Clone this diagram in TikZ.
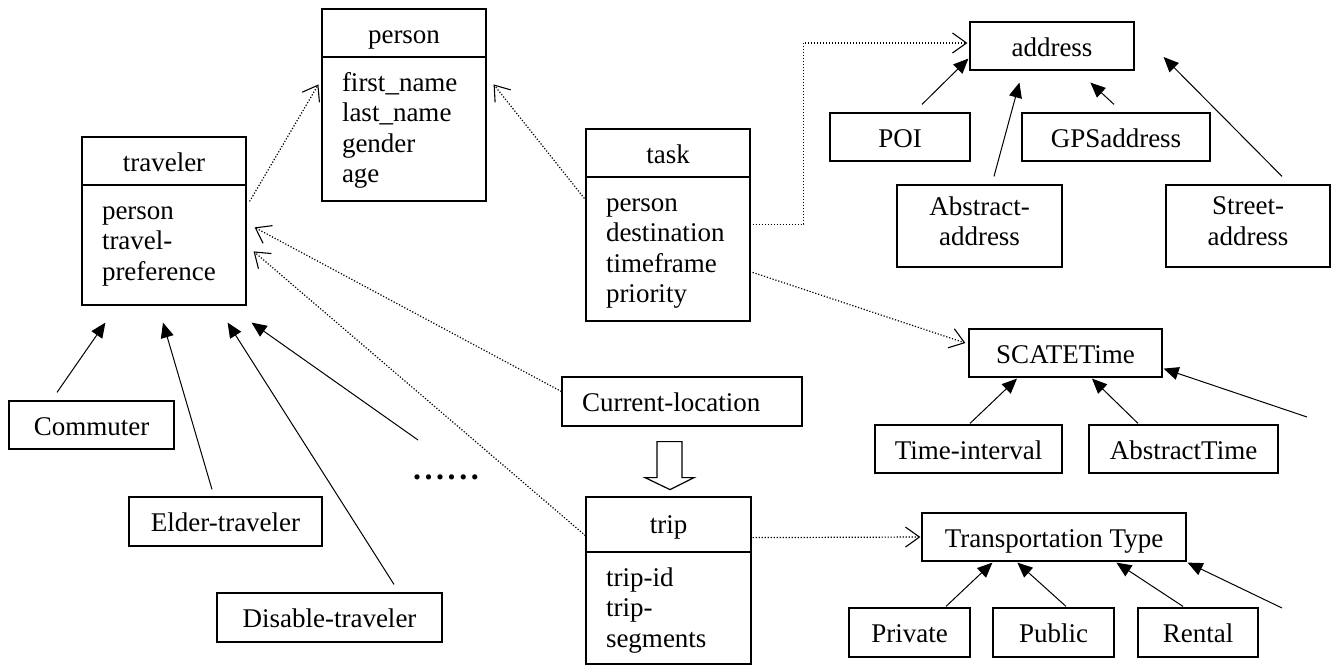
\documentclass[tikz,border=0pt]{standalone}
\usepackage{fontspec}
\setmainfont{Liberation Serif}
\newfontfamily\dotsfont[LetterSpace=11]{Liberation Serif}
\usetikzlibrary{arrows.meta,calc}
\begin{document}
\begin{tikzpicture}[x=1pt,y=-1pt,
  every node/.style={font=\fontsize{27}{30.5}\selectfont},
  txt/.style={execute at begin node={\rule{0pt}{26pt}},
              execute at end node={\rule[-#1]{0pt}{#1}}},
  box/.style={draw, line width=1.2pt, rectangle, inner sep=0pt, align=center, txt=6pt},
  gen/.style={-{Triangle[length=15pt,width=13pt]}, line width=1pt},
  dep/.style={line width=1.2pt, dash pattern=on 1.2pt off 1.8pt,
              -{Straight Barb[length=14pt,width=20pt,line width=1.1pt]}},
  blockarrow/.style={draw, line width=1.2pt}
]
\useasboundingbox (0,0) rectangle (1331,665);

% class boxes
\node[box, minimum width=164pt, minimum height=48pt] (tvh) at (164,161) {traveler};
\node[box, txt=17pt, minimum width=164pt, minimum height=120pt, text width=124pt, align=left] (tvb) at (164,245) {person\\travel-\\preference};

\node[box, minimum width=164pt, minimum height=48pt] (ph) at (404,33) {person};
\node[box, txt=10.5pt, minimum width=164pt, minimum height=144pt, text width=124pt, align=left] (pb) at (404,129) {first\_name\\last\_name\\gender\\age};

\node[box, minimum width=164pt, minimum height=48pt] (th) at (668,153) {task};
\node[box, txt=10.5pt, minimum width=164pt, minimum height=144pt, text width=124pt, align=left] (tb) at (668,249) {person\\destination\\timeframe\\priority};

\node[box, txt=9pt, minimum width=165pt, minimum height=55pt] (triph) at (668.5,524.5) {trip};
\node[box, txt=9pt, minimum width=165pt, minimum height=112pt, text width=125pt, align=left] (tripb) at (668.5,608) {trip-id\\trip-\\segments};

% address cluster
\node[box, minimum width=164pt, minimum height=48pt] (addr) at (1052,46) {address};
\node[box, minimum width=140pt, minimum height=48pt] (poi) at (900,137) {POI};
\node[box, minimum width=188pt, minimum height=48pt] (gps) at (1116,137) {GPSaddress};
\node[box, txt=9.5pt, minimum width=165pt, minimum height=82pt] (abs) at (979.5,226) {Abstract-\\address};
\node[box, txt=9.5pt, minimum width=164pt, minimum height=82pt] (str) at (1248,226) {Street-\\address};

% time cluster
\node[box, minimum width=193pt, minimum height=48pt] (scate) at (1065.5,353) {SCATETime};
\node[box, minimum width=187pt, minimum height=48pt] (ti) at (968.5,449) {Time-interval};
\node[box, minimum width=189pt, minimum height=48pt] (at) at (1183.5,449) {AbstractTime};

% transportation cluster
\node[box, minimum width=264pt, minimum height=48pt] (tt) at (1054,537) {Transportation Type};
\node[box, minimum width=121pt, minimum height=49pt] (priv) at (909.5,632.5) {Private};
\node[box, minimum width=121pt, minimum height=49pt] (pub) at (1053.5,632.5) {Public};
\node[box, minimum width=120pt, minimum height=49pt] (ren) at (1198,632.5) {Rental};

% current location
\node[box, minimum width=240pt, minimum height=49pt, text width=200pt, align=left] (cur) at (682,401.5) {Current-location};

% traveler subtypes
\node[box, minimum width=165pt, minimum height=48pt] (com) at (91.5,425) {Commuter};
\node[box, minimum width=193pt, minimum height=49pt] (eld) at (225.5,521.5) {Elder-traveler};
\node[box, minimum width=225pt, minimum height=49pt] (dis) at (329.5,617.5) {Disable-traveler};

\node[inner sep=0pt, font=\fontsize{32}{32}\selectfont] (dots) at (446,477) {\dotsfont\bfseries ......};

% free ends
\coordinate (tvfree) at (418,440);
\coordinate (scfree) at (1307,417);
\coordinate (ttfree) at (1282,608);

% dependency connectors (dotted)
\draw[dep] ($(tvb.north east)+(3,17)$) -- ($(pb.north west)+(-3,28)$);
\draw[dep] ($(tb.north west)+(-1,22)$) -- ($(pb.north east)+(7,28)$);
\draw[dep] ($(tb.north east)+(2,48)$) -- ++(51,0) |- ($(addr.west)+(-2,-3)$);
\draw[dep] ($(tb.north east)+(2,96)$) -- ($(scate.west)+(-3,-10)$);
\draw[dep] ($(triph.south east)+(1,-15)$) -- ($(tt.west)+(-1,0)$);
\draw[dep] ($(cur.west)+(0,-10)$) -- ($(tvb.north east)+(8,43)$);
\draw[dep] ($(triph.south west)+(0,-17)$) -- ($(tvb.north east)+(7,67)$);

% generalization connectors
\draw[gen] ($(com.north)+(-34.5,-8)$) -- ($(tvb.south west)+(24,17)$);
\draw[gen] ($(eld.north)+(-13.5,-7)$) -- ($(tvb.south)+(-1,17)$);
\draw[gen] ($(dis.north)+(64.5,-8)$) -- ($(tvb.south east)+(-19,17)$);
\draw[gen] (tvfree) -- ($(tvb.south east)+(5,17)$);

\draw[gen] ($(poi.north)+(22,-8)$) -- ($(addr.south west)+(-1,-12)$);
\draw[gen] ($(abs.north)+(14.5,-8)$) -- ($(addr.south west)+(50,12)$);
\draw[gen] ($(gps.north)+(-2,-8)$) -- ($(addr.south west)+(121,12)$);
\draw[gen] ($(str.north)+(34,-8)$) -- ($(addr.east)+(29,11)$);

\draw[gen] ($(ti.north)+(1.5,-1)$) -- ($(scate.south)+(-48.5,1)$);
\draw[gen] ($(at.north)+(-45.5,-1)$) -- ($(scate.south)+(26.5,1)$);
\draw[gen] (scfree) -- ($(scate.south east)+(1,-9)$);

\draw[gen] ($(priv.north)+(36.5,-1)$) -- ($(tt.south west)+(71,1)$);
\draw[gen] ($(pub.north)+(12.5,-1)$) -- ($(tt.south west)+(96,1)$);
\draw[gen] ($(ren.north)+(-15,-1)$) -- ($(tt.south west)+(195,1)$);
\draw[gen] (ttfree) -- ($(tt.south east)+(1,1)$);

% block arrow from current location to trip
\draw[blockarrow] ($(cur.south)+(-25,15)$) -- ++(25,0) -- ++(0,36) -- ++(12,0)
  -- ++(-24,12) -- ++(-25,-12) -- ++(12,0) -- cycle;
\end{tikzpicture}
\end{document}
